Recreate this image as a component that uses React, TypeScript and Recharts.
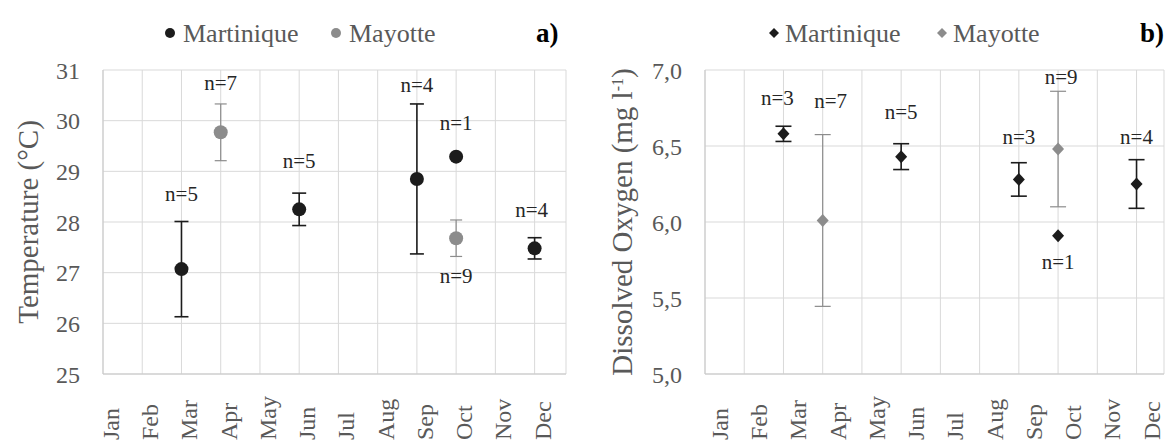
import { ScatterChart, Scatter, XAxis, YAxis, CartesianGrid, ErrorBar } from 'recharts'

const FONT = "'Liberation Serif', serif"
const MART = '#1c1c1c'
const MAY = '#8c8c8c'
const TEXT = '#595959'
const GRID = '#d9d9d9'

const MONTHS = ['Jan', 'Feb', 'Mar', 'Apr', 'May', 'Jun', 'Jul', 'Aug', 'Sep', 'Oct', 'Nov', 'Dec']
const MONTH_TICKS = [0, 1, 2, 3, 4, 5, 6, 7, 8, 9, 10, 11]

// a) temperature (°C), mean ± sd
const TEMP_MART_MONTHS = ['Mar', 'Jun', 'Sep', 'Oct', 'Dec']
const TEMP_MART_MEAN = [27.07, 28.25, 28.85, 29.29, 27.48]
const TEMP_MART_SD = [0.94, 0.32, 1.48, null, 0.21]
const TEMP_MART_N = [5, 5, 4, 1, 4]
const TEMP_MAY_MONTHS = ['Apr', 'Oct']
const TEMP_MAY_MEAN = [29.77, 27.68]
const TEMP_MAY_SD = [0.56, 0.36]
const TEMP_MAY_N = [7, 9]
const TEMP_TICKS = [25, 26, 27, 28, 29, 30, 31]

// b) dissolved oxygen (mg l-1), mean ± sd
const DO_MART_MONTHS = ['Mar', 'Jun', 'Sep', 'Oct', 'Dec']
const DO_MART_MEAN = [6.58, 6.43, 6.28, 5.91, 6.25]
const DO_MART_SD = [0.05, 0.085, 0.11, null, 0.16]
const DO_MART_N = [3, 5, 3, 1, 4]
const DO_MAY_MONTHS = ['Apr', 'Oct']
const DO_MAY_MEAN = [6.01, 6.48]
const DO_MAY_SD = [0.565, 0.38]
const DO_MAY_N = [7, 9]
const DO_TICKS = [5, 5.5, 6, 6.5, 7]

// pixel offsets of the "n=" labels from the end of the error bar (negative = below)
const LABEL_OFFSET: Record<string, [number, number]> = {
  'T-Mart-Mar': [27, 0], 'T-Mart-Jun': [32, 0], 'T-Mart-Sep': [19, 0], 'T-Mart-Oct': [34, 0], 'T-Mart-Dec': [28, -3],
  'T-May-Apr': [21, 0], 'T-May-Oct': [-20, 0],
  'O-Mart-Mar': [28, -6], 'O-Mart-Jun': [32, 0], 'O-Mart-Sep': [26, 0], 'O-Mart-Oct': [-26, 0], 'O-Mart-Dec': [23, 0],
  'O-May-Apr': [34, 8], 'O-May-Oct': [14, 3],
}

type Pt = { x: number; y: number; err: number | null; n: number; month: string }

function buildPoints(months: string[], mean: number[], sd: (number | null)[], n: number[]): Pt[] {
  return months.map((m, i) => ({ x: MONTHS.indexOf(m), y: mean[i], err: sd[i], n: n[i], month: m }))
}

function buildLabels(pts: Pt[], key: string) {
  return pts.map(p => {
    const [dy, dx] = LABEL_OFFSET[`${key}-${p.month}`] ?? [24, 0]
    const e = p.err ?? 0
    return { x: p.x, y: dy < 0 ? p.y - e : p.y + e, text: `n=${p.n}`, dy, dx }
  })
}

const tempMart = buildPoints(TEMP_MART_MONTHS, TEMP_MART_MEAN, TEMP_MART_SD, TEMP_MART_N)
const tempMay = buildPoints(TEMP_MAY_MONTHS, TEMP_MAY_MEAN, TEMP_MAY_SD, TEMP_MAY_N)
const doMart = buildPoints(DO_MART_MONTHS, DO_MART_MEAN, DO_MART_SD, DO_MART_N)
const doMay = buildPoints(DO_MAY_MONTHS, DO_MAY_MEAN, DO_MAY_SD, DO_MAY_N)

const circle = (color: string) => (p: any) => <circle cx={p.cx} cy={p.cy} r={7} fill={color} />
const diamond = (color: string) => (p: any) => (
  <polygon points={`${p.cx},${p.cy - 6.5} ${p.cx + 6},${p.cy} ${p.cx},${p.cy + 6.5} ${p.cx - 6},${p.cy}`} fill={color} />
)

const LabelShape = (p: any) => (
  <text x={p.cx + p.payload.dx} y={p.cy - p.payload.dy + 7} textAnchor="middle"
    fontSize={21} fill="#262626" fontFamily={FONT}>{p.payload.text}</text>
)

const monthTick = (shift: number) => (p: any) => {
  const px = p.x + shift + 8
  const py = p.y + 58
  return (
    <text x={px} y={py} transform={`rotate(-90 ${px} ${py})`} textAnchor="start"
      fontSize={24} fill={TEXT} fontFamily={FONT}>{MONTHS[p.payload.value]}</text>
  )
}

type PanelProps = {
  width: number
  yWidth: number
  marginRight: number
  xMax: number
  yDomain: [number, number]
  yTicks: number[]
  fmt: (v: number) => string
  tickShift: number
  titleX: number
  title: React.ReactNode
  mart: Pt[]
  may: Pt[]
  key2: string
  shape: (c: string) => (p: any) => React.ReactElement
  capMart: number
  capMay: number
}

function Panel(c: PanelProps) {
  const labels = [...buildLabels(c.mart, `${c.key2}-Mart`), ...buildLabels(c.may, `${c.key2}-May`)]
  return (
    <ScatterChart width={c.width} height={448} margin={{ top: 70, right: c.marginRight, bottom: 0, left: 0 }}
      style={{ fontFamily: FONT }}>
      <CartesianGrid stroke={GRID} strokeWidth={1} />
      <XAxis type="number" dataKey="x" domain={[0, c.xMax]} ticks={MONTH_TICKS} interval={0}
        height={74} tickLine={false} axisLine={{ stroke: '#c8c8c8' }} tick={monthTick(c.tickShift)} />
      <YAxis type="number" dataKey="y" domain={c.yDomain} ticks={c.yTicks} interval={0} width={c.yWidth}
        tickLine={false} axisLine={{ stroke: '#c8c8c8' }} tickMargin={17} tickFormatter={c.fmt}
        tick={{ fontSize: 24, fill: TEXT, fontFamily: FONT }}
        label={{
          content: () => (
            <text x={c.titleX + 10} y={222} transform={`rotate(-90 ${c.titleX + 10} 222)`} textAnchor="middle"
              fontSize={29} fill={TEXT} fontFamily={FONT}>{c.title}</text>
          ),
        }} />
      <Scatter data={c.may} shape={c.shape(MAY)} isAnimationActive={false}>
        <ErrorBar dataKey="err" direction="y" width={c.capMay} stroke={MAY} strokeWidth={1.2} isAnimationActive={false} />
      </Scatter>
      <Scatter data={c.mart} shape={c.shape(MART)} isAnimationActive={false}>
        <ErrorBar dataKey="err" direction="y" width={c.capMart} stroke={MART} strokeWidth={1.6} isAnimationActive={false} />
      </Scatter>
      <Scatter data={labels} shape={LabelShape} isAnimationActive={false} />
    </ScatterChart>
  )
}

export default function App() {
  return (
    <div style={{ width: 1173, height: 448, position: 'relative', margin: -8, fontFamily: FONT }}>
      <div style={{ display: 'flex' }}>
        <Panel width={580} yWidth={103} marginRight={14} xMax={11.8} yDomain={[25, 31]} yTicks={TEMP_TICKS}
          fmt={v => String(v)} tickShift={8} titleX={28} title="Temperature (°C)"
          mart={tempMart} may={tempMay} key2="T" shape={circle} capMart={7} capMay={6} />
        <Panel width={593} yWidth={125} marginRight={9} xMax={11.7} yDomain={[5, 7]} yTicks={DO_TICKS}
          fmt={v => v.toFixed(1).replace('.', ',')} tickShift={15} titleX={42}
          title={<>Dissolved Oxygen (mg l<tspan dy={-9} fontSize={16}>-1</tspan><tspan dy={9}>)</tspan></>}
          mart={doMart} may={doMay} key2="O" shape={diamond} capMart={8} capMay={8} />
      </div>
      <svg width={1173} height={60} style={{ position: 'absolute', left: 0, top: 0 }}>
        <g fontFamily={FONT} fill={TEXT} fontSize={26}>
          <circle cx={170} cy={33} r={5} fill={MART} />
          <text x={183} y={42}>Martinique</text>
          <circle cx={336} cy={33} r={5} fill={MAY} />
          <text x={349} y={42}>Mayotte</text>
          <text x={536} y={42} fontSize={27} fontWeight="bold" fill="#000">a)</text>
          <polygon points="774,28 779,33 774,38 769,33" fill={MART} />
          <text x={785} y={42}>Martinique</text>
          <polygon points="942,28 947,33 942,38 937,33" fill={MAY} />
          <text x={953} y={42}>Mayotte</text>
          <text x={1140} y={42} fontSize={27} fontWeight="bold" fill="#000">b)</text>
        </g>
      </svg>
    </div>
  )
}
